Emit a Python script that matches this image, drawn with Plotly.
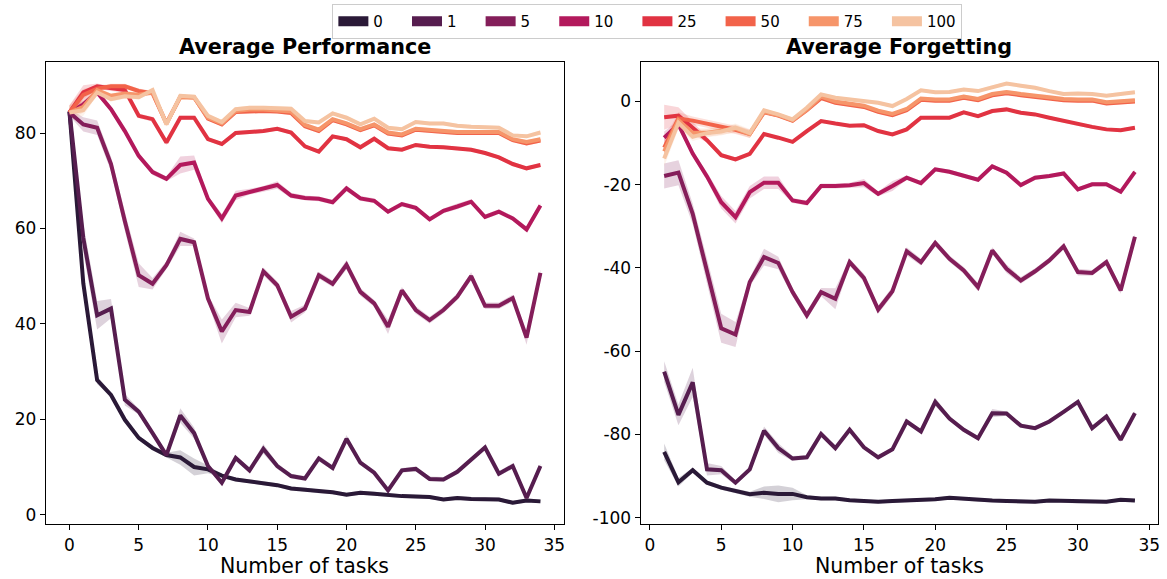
import plotly.graph_objects as go

# ---------------- data ----------------
labels = ["0", "1", "5", "10", "25", "50", "75", "100"]
colors = ["#2a1937", "#561d4f", "#841e5a", "#b3195c", "#e13342", "#f2634a", "#f6956a", "#f5c3a1"]

tasks_perf = list(range(0, 35))
tasks_forg = list(range(1, 35))

# Average Performance (x = 0..34)
perf_0 = [84.5, 48.5, 28.2, 25.1, 19.9, 16.1, 14.0, 12.5, 12.0, 10.0, 9.5, 8.2, 7.4, 7.0, 6.6, 6.2, 5.5, 5.3,
          4.9, 4.7, 4.2, 4.6, 4.4, 4.1, 3.9, 3.8, 3.7, 3.2, 3.5, 3.3, 3.3, 3.2, 2.5, 3.0, 2.8]
perf_1 = [84.5, 58.0, 41.8, 43.2, 24.1, 21.6, 17.1, 12.5, 20.8, 17.1, 10.2, 6.7, 11.9, 9.3, 13.8, 10.2, 8.1, 7.6,
          11.8, 9.8, 15.9, 10.9, 8.8, 5.1, 9.3, 9.6, 7.5, 7.4, 9.0, 11.5, 14.1, 8.6, 10.2, 3.5, 10.2]
perf_5 = [84.3, 81.8, 81.1, 73.5, 61.5, 50.2, 48.4, 52.3, 57.8, 57.1, 45.3, 38.4, 42.9, 42.5, 51.0, 48.1, 41.5, 43.2,
          50.2, 48.4, 52.4, 46.7, 44.3, 39.4, 47.0, 42.9, 40.8, 42.9, 45.7, 50.0, 43.8, 43.8, 45.4, 37.1, 50.7]
perf_10 = [84.3, 86.0, 88.5, 85.0, 80.4, 75.2, 71.8, 70.4, 73.3, 73.8, 66.2, 62.1, 66.9, 67.7, 68.3, 69.1, 66.9, 66.4,
           66.2, 65.5, 68.4, 66.3, 65.8, 63.5, 65.1, 64.3, 61.9, 63.7, 64.6, 65.6, 62.4, 63.5, 62.1, 59.8, 64.8]
perf_25 = [84.3, 88.5, 89.8, 89.3, 89.0, 83.6, 82.9, 78.0, 83.2, 83.2, 78.7, 77.7, 80.0, 80.2, 80.4, 80.9, 80.1, 77.2,
           76.1, 79.3, 78.7, 77.0, 78.8, 76.8, 76.5, 77.5, 77.1, 77.0, 76.8, 76.5, 75.8, 74.9, 73.5, 72.6, 73.3]
perf_50 = [84.3, 88.0, 89.3, 89.8, 89.8, 88.8, 88.3, 82.0, 87.6, 87.5, 83.0, 81.8, 84.4, 84.6, 84.6, 84.5, 84.2, 81.4,
           80.4, 82.7, 81.8, 80.6, 81.6, 79.9, 79.5, 80.7, 80.4, 80.2, 80.0, 80.0, 80.0, 80.0, 78.5, 77.8, 78.4]
perf_75 = [84.3, 85.5, 89.0, 87.8, 88.3, 88.0, 88.5, 82.0, 87.5, 87.4, 83.2, 82.0, 84.6, 84.9, 84.9, 84.8, 84.5, 81.7,
           80.7, 82.9, 82.0, 80.8, 81.8, 80.1, 79.7, 80.9, 80.6, 80.4, 80.2, 80.2, 80.2, 80.2, 78.7, 78.1, 78.7]
perf_100 = [84.3, 84.8, 88.5, 87.1, 87.7, 87.5, 89.0, 81.8, 87.8, 87.6, 83.6, 82.3, 85.0, 85.3, 85.3, 85.3, 85.1, 82.5,
            82.2, 84.1, 83.2, 81.8, 83.0, 81.1, 80.8, 82.3, 82.0, 82.0, 81.5, 81.3, 81.3, 81.1, 79.5, 79.3, 80.1]

# half-width of the shaded confidence band (performance)
perf_0_ci = [0.3, 1.0, 0.8, 0.5, 0.5, 0.5, 0.5, 0.5, 1.5, 1.8, 0.8, 0.4, 0.4, 0.4, 0.4, 0.4, 0.4, 0.4,
             0.4, 0.4, 0.4, 0.4, 0.4, 0.4, 0.4, 0.4, 0.4, 0.4, 0.4, 0.4, 0.4, 0.4, 0.4, 0.4, 0.4]
perf_1_ci = [0.5, 3.0, 3.0, 2.0, 1.2, 0.6, 0.5, 0.5, 1.5, 1.2, 0.5, 0.5, 0.5, 0.6, 1.0, 0.6, 0.5, 0.5,
             0.6, 0.5, 0.8, 0.5, 0.5, 0.5, 0.5, 0.5, 0.5, 0.5, 0.5, 0.5, 0.5, 0.5, 0.6, 0.5, 0.5]
perf_5_ci = [0.7, 1.5, 1.5, 1.5, 2.0, 2.5, 1.2, 0.8, 1.5, 0.8, 0.8, 2.5, 1.5, 0.8, 0.8, 0.8, 1.2, 0.8,
             0.7, 0.7, 1.0, 0.8, 0.7, 1.5, 0.7, 0.8, 0.7, 0.7, 0.7, 0.8, 0.7, 0.7, 0.7, 1.5, 0.7]
perf_10_ci = [0.5, 0.8, 0.6, 0.5, 0.5, 0.5, 0.6, 0.5, 1.8, 1.5, 0.6, 1.0, 1.0, 0.6, 0.6, 0.8, 0.6, 0.5,
              0.5, 0.5, 0.6, 0.5, 0.5, 0.5, 0.5, 0.5, 0.5, 0.5, 0.6, 0.5, 0.5, 0.5, 0.5, 0.6, 0.5]
perf_25_ci = [1.5, 1.5, 0.6, 0.5, 0.5, 0.5, 0.5, 0.5, 0.4, 0.4, 0.4, 0.4, 0.4, 0.4, 0.4, 0.4, 0.4, 0.4,
              0.4, 0.4, 0.4, 0.4, 0.4, 0.4, 0.4, 0.4, 0.4, 0.4, 0.4, 0.4, 0.4, 0.4, 0.4, 0.4, 0.4]
perf_50_ci = [1.5, 1.2, 0.6, 0.5, 0.5, 0.5, 0.5, 0.5, 0.4, 0.4, 0.4, 0.4, 0.4, 0.4, 0.4, 0.4, 0.4, 0.4,
              0.4, 0.4, 0.4, 0.4, 0.4, 0.4, 0.4, 0.4, 0.4, 0.4, 0.4, 0.4, 0.4, 0.4, 0.4, 0.4, 0.4]
perf_75_ci = [1.5, 1.2, 0.6, 0.5, 0.5, 0.5, 0.5, 0.5, 0.4, 0.4, 0.4, 0.4, 0.4, 0.4, 0.4, 0.4, 0.4, 0.4,
              0.4, 0.4, 0.4, 0.4, 0.4, 0.4, 0.4, 0.4, 0.4, 0.4, 0.4, 0.4, 0.4, 0.4, 0.4, 0.4, 0.4]
perf_100_ci = [1.5, 1.2, 0.6, 0.5, 0.5, 0.5, 0.5, 0.5, 0.4, 0.4, 0.4, 0.4, 0.4, 0.4, 0.4, 0.4, 0.4, 0.4,
               0.4, 0.4, 0.4, 0.4, 0.4, 0.4, 0.4, 0.4, 0.4, 0.4, 0.4, 0.4, 0.4, 0.4, 0.4, 0.4, 0.4]

# Average Forgetting (x = 1..34)
forg_0 = [-84.2, -91.5, -88.6, -91.6, -92.8, -93.6, -94.4, -94.0, -94.3, -94.3, -95.1, -95.4, -95.4, -95.8, -96.0, -96.2,
          -96.0, -95.9, -95.7, -95.6, -95.2, -95.5, -95.8, -95.9, -96.0, -96.2, -96.2, -95.9, -96.0, -96.2, -96.2, -96.2,
          -95.7, -95.9]
forg_1 = [-64.9, -75.3, -67.5, -88.4, -88.6, -91.6, -88.4, -79.1, -83.3, -85.8, -85.5, -79.9, -83.3, -78.9, -83.1, -85.5,
          -83.6, -76.9, -79.3, -72.2, -76.2, -78.9, -80.9, -74.9, -75.0, -77.9, -78.5, -76.9, -74.6, -72.2, -78.5, -75.7,
          -81.3, -74.9]
forg_5 = [-17.9, -17.1, -27.0, -41.0, -54.5, -56.0, -43.4, -37.4, -38.8, -45.8, -51.4, -45.8, -47.4, -38.6, -42.4, -50.0,
          -45.6, -36.0, -38.6, -34.0, -37.8, -40.6, -44.6, -35.8, -40.2, -43.0, -40.8, -38.2, -34.8, -41.0, -41.2, -38.6,
          -45.4, -32.5]
forg_10 = [-8.7, -5.5, -12.5, -18.0, -24.2, -27.8, -21.8, -19.5, -19.5, -23.8, -24.4, -20.3, -20.3, -20.1, -19.6, -22.2,
           -20.3, -18.3, -19.6, -16.3, -16.9, -17.9, -18.8, -15.6, -17.1, -20.1, -18.3, -17.9, -17.3, -21.1, -19.9, -19.9,
           -21.7, -16.9]
forg_25 = [-3.8, -3.4, -6.3, -9.3, -12.9, -13.9, -12.6, -7.8, -8.7, -9.7, -7.1, -4.7, -5.3, -5.8, -5.7, -7.1,
           -7.9, -6.7, -3.9, -3.8, -3.9, -2.6, -3.5, -2.3, -1.9, -2.7, -3.1, -3.9, -4.7, -5.5, -6.1, -6.7,
           -6.9, -6.3]
forg_50 = [-11.1, -4.1, -4.6, -5.3, -6.0, -6.8, -7.8, -2.6, -3.4, -4.6, -2.1, 0.8, -0.3, -0.8, -1.3, -2.5,
           -3.3, -2.1, 0.4, 0.2, 0.2, 0.9, 0.3, 1.5, 2.0, 1.5, 1.1, 0.9, 0.3, 0.2, 0.2, -0.5,
           -0.2, 0.0]
forg_75 = [-12.0, -4.5, -7.5, -7.5, -7.0, -6.5, -7.8, -2.5, -3.3, -4.5, -2.0, 1.2, 0.0, -0.5, -1.0, -2.2,
           -3.0, -1.8, 0.7, 0.5, 0.5, 1.2, 0.6, 1.8, 2.3, 1.8, 1.4, 1.2, 0.6, 0.5, 0.5, -0.2,
           0.1, 0.3]
forg_100 = [-13.7, -5.1, -8.5, -7.6, -7.2, -6.3, -7.6, -2.1, -3.1, -4.3, -1.5, 1.7, 0.9, 0.5, -0.1, -0.3,
            -1.1, 0.6, 2.7, 2.2, 2.3, 2.9, 2.5, 3.5, 4.3, 3.8, 3.3, 2.5, 1.8, 1.9, 1.8, 1.4,
            1.9, 2.2]

forg_0_ci = [2.0, 1.0, 0.6, 0.5, 0.5, 0.5, 0.6, 1.5, 2.0, 1.5, 0.5, 0.4, 0.4, 0.4, 0.4, 0.4,
             0.4, 0.4, 0.4, 0.4, 0.4, 0.4, 0.4, 0.4, 0.4, 0.4, 0.4, 0.4, 0.4, 0.4, 0.4, 0.4, 0.4, 0.4]
forg_1_ci = [2.5, 2.5, 3.5, 1.5, 1.0, 0.6, 0.6, 1.0, 1.2, 0.6, 0.5, 0.5, 0.5, 0.5, 0.5, 0.5,
             0.5, 0.6, 0.5, 1.0, 0.5, 0.5, 0.5, 1.0, 0.5, 0.5, 0.5, 0.5, 0.5, 0.5, 0.5, 0.6, 0.5, 0.5]
forg_5_ci = [3.0, 3.0, 2.5, 3.0, 3.5, 3.0, 1.0, 2.0, 1.5, 1.0, 1.0, 1.0, 2.5, 0.8, 1.0, 1.0,
             1.0, 1.0, 0.8, 0.8, 0.8, 0.8, 1.0, 0.8, 1.0, 0.8, 0.7, 0.7, 0.7, 0.8, 0.7, 0.7, 0.8, 0.7]
forg_10_ci = [1.5, 1.0, 0.6, 1.0, 1.5, 1.5, 1.5, 1.5, 1.5, 0.6, 0.6, 0.6, 0.6, 0.6, 1.0, 0.6,
              1.2, 0.5, 0.5, 0.5, 0.5, 0.5, 0.5, 0.5, 0.5, 0.5, 0.5, 0.5, 0.5, 0.5, 0.5, 0.5, 0.5, 0.5]
forg_25_ci = [3.0, 2.0, 1.5, 0.6, 0.5, 0.5, 0.5, 0.4, 0.4, 0.4, 0.4, 0.4, 0.4, 0.4, 0.4, 0.4,
              0.4, 0.4, 0.4, 0.4, 0.4, 0.4, 0.4, 0.4, 0.4, 0.4, 0.4, 0.4, 0.4, 0.4, 0.4, 0.4, 0.4, 0.4]
forg_50_ci = [2.0, 1.5, 1.0, 1.0, 1.0, 1.0, 1.0, 0.4, 0.4, 0.4, 0.4, 0.4, 0.4, 0.4, 0.4, 0.4,
              0.4, 0.4, 0.4, 0.4, 0.4, 0.4, 0.4, 0.4, 0.4, 0.4, 0.4, 0.4, 0.4, 0.4, 0.4, 0.4, 0.4, 0.4]
forg_75_ci = [2.0, 1.5, 1.0, 1.0, 1.0, 1.0, 1.0, 0.4, 0.4, 0.4, 0.4, 0.4, 0.4, 0.4, 0.4, 0.4,
              0.4, 0.4, 0.4, 0.4, 0.4, 0.4, 0.4, 0.4, 0.4, 0.4, 0.4, 0.4, 0.4, 0.4, 0.4, 0.4, 0.4, 0.4]
forg_100_ci = [2.0, 1.5, 1.0, 1.0, 1.0, 1.0, 1.0, 0.4, 0.4, 0.4, 0.4, 0.4, 0.4, 0.4, 0.4, 0.4,
               0.4, 0.4, 0.4, 0.4, 0.4, 0.4, 0.4, 0.4, 0.4, 0.4, 0.4, 0.4, 0.4, 0.4, 0.4, 0.4, 0.4, 0.4]

perf_tick_vals = [0, 20, 40, 60, 80]
forg_tick_vals = [-100, -80, -60, -40, -20, 0]
forg_tick_text = ["-100", "-80", "-60", "-40", "-20", "0"]
x_tick_vals = [0, 5, 10, 15, 20, 25, 30, 35]

perf_series = [perf_0, perf_1, perf_5, perf_10, perf_25, perf_50, perf_75, perf_100]
perf_cis = [perf_0_ci, perf_1_ci, perf_5_ci, perf_10_ci, perf_25_ci, perf_50_ci, perf_75_ci, perf_100_ci]
forg_series = [forg_0, forg_1, forg_5, forg_10, forg_25, forg_50, forg_75, forg_100]
forg_cis = [forg_0_ci, forg_1_ci, forg_5_ci, forg_10_ci, forg_25_ci, forg_50_ci, forg_75_ci, forg_100_ci]

FONT = "DejaVu Sans"
NBSP = "\u00a0"


def rgba(hex_color, a):
    h = hex_color.lstrip("#")
    r, g, b = int(h[0:2], 16), int(h[2:4], 16), int(h[4:6], 16)
    return f"rgba({r},{g},{b},{a})"


fig = go.Figure()

panels = [
    (tasks_perf, perf_series, perf_cis, "x", "y"),
    (tasks_forg, forg_series, forg_cis, "x2", "y2"),
]

# bands first (below all lines)
for xs, series, cis, xa, ya in panels:
    for col, ys, ci in zip(colors, series, cis):
        upper = [v + c for v, c in zip(ys, ci)]
        lower = [v - c for v, c in zip(ys, ci)]
        fig.add_trace(go.Scatter(
            x=xs + xs[::-1], y=upper + lower[::-1],
            fill="toself", fillcolor=rgba(col, 0.2),
            line=dict(width=0), mode="lines", hoverinfo="skip",
            showlegend=False, xaxis=xa, yaxis=ya))

# lines
for xs, series, cis, xa, ya in panels:
    for col, ys, lab in zip(colors, series, labels):
        fig.add_trace(go.Scatter(
            x=xs, y=ys, mode="lines", line=dict(color=col, width=4),
            name=lab, showlegend=False, xaxis=xa, yaxis=ya))

# legend entries (rectangular patches); trailing spaces give matplotlib-like column spacing
for i, (col, lab) in enumerate(zip(colors, labels)):
    pad = NBSP * 4 if i < len(labels) - 1 else ""
    fig.add_trace(go.Scatter(
        x=[None], y=[None], mode="lines", line=dict(color=col, width=12),
        name=lab + pad, showlegend=True, xaxis="x", yaxis="y"))

axis_common = dict(
    showline=True, mirror=True, linecolor="black", linewidth=1.1,
    ticks="outside", ticklen=5, tickwidth=1.1, tickcolor="black",
    showgrid=False, zeroline=False,
    tickfont=dict(family=FONT, size=17, color="black"),
)

fig.update_layout(
    width=1167, height=579,
    margin=dict(l=0, r=0, t=0, b=0),
    paper_bgcolor="white", plot_bgcolor="white",
    font=dict(family=FONT, color="black"),
    xaxis=dict(domain=[0.0394, 0.4841], range=[-1.7, 35.7], tickvals=x_tick_vals, anchor="y", **axis_common),
    yaxis=dict(domain=[0.0898, 0.8917], range=[-2.0, 94.8], tickvals=perf_tick_vals, anchor="x", **axis_common),
    xaxis2=dict(domain=[0.5499, 0.9944], range=[-0.65, 35.65], tickvals=x_tick_vals, anchor="y2", **axis_common),
    yaxis2=dict(domain=[0.0898, 0.8917], range=[-101.6, 9.4], tickvals=forg_tick_vals,
                ticktext=forg_tick_text, anchor="x2", **axis_common),
    legend=dict(orientation="h", x=0.2853, xanchor="left", y=1 - 4 / 579, yanchor="top",
                bordercolor="#cccccc", borderwidth=1, bgcolor="white",
                font=dict(family=FONT, size=15, color="black"),
                traceorder="normal"),
    showlegend=True,
)

annotations = [
    dict(text="<b>Average Performance</b>", x=0.2618, y=1 - 47 / 579, xref="paper", yref="paper",
         xanchor="center", yanchor="middle", showarrow=False, font=dict(family=FONT, size=20.7, color="black")),
    dict(text="<b>Average Forgetting</b>", x=0.772, y=1 - 47 / 579, xref="paper", yref="paper",
         xanchor="center", yanchor="middle", showarrow=False, font=dict(family=FONT, size=20.7, color="black")),
    dict(text="Number of tasks", x=0.2618, y=1 - 569 / 579, xref="paper", yref="paper",
         xanchor="center", yanchor="middle", showarrow=False, font=dict(family=FONT, size=20.5, color="black")),
    dict(text="Number of tasks", x=0.772, y=1 - 569 / 579, xref="paper", yref="paper",
         xanchor="center", yanchor="middle", showarrow=False, font=dict(family=FONT, size=20.5, color="black")),
]
fig.update_layout(annotations=annotations)

fig.write_html("out.html", config={"displayModeBar": False},
               post_script="document.body.style.margin='0';")
